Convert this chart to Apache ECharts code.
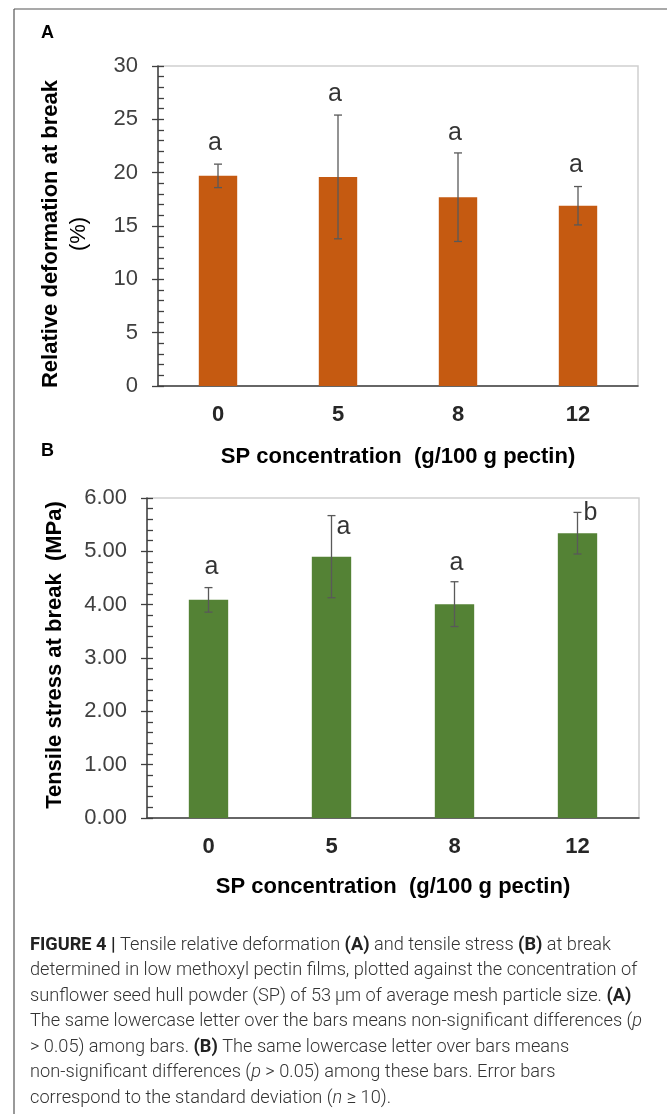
<!DOCTYPE html>
<html>
<head>
<meta charset="utf-8">
<script src="https://cdn.jsdelivr.net/npm/echarts@6/dist/echarts.min.js"></script>
<style>
html,body{margin:0;padding:0;background:#fff;}
#chart{width:667px;height:1114px;}
</style>
</head>
<body>
<div id="chart"></div>
<script>
// ---- data ----
const categories = ['0', '5', '8', '12'];
const deformation = [19.7, 19.6, 17.7, 16.9];        // Relative deformation at break (%)
const deformationSD = [1.1, 5.8, 4.15, 1.8];
const deformationLetters = ['a', 'a', 'a', 'a'];
const stress = [4.09, 4.90, 4.01, 5.34];            // Tensile stress at break (MPa)
const stressSD = [0.23, 0.77, 0.42, 0.39];
const stressLetters = ['a', 'a', 'a', 'b'];
const yTicksA = [0, 5, 10, 15, 20, 25, 30];
const yTicksB = [0, 1, 2, 3, 4, 5, 6];
const xTitle = 'SP concentration  (g/100 g pectin)';
const yTitleA = 'Relative deformation at break';
const yTitleAUnit = '(%)';
const yTitleB = 'Tensile stress at break  (MPa)';
const captionLines = [
  '{b|FIGURE 4 |} Tensile relative deformation {b|(A)} and tensile stress {b|(B)} at break',
  'determined in low methoxyl pectin films, plotted against the concentration of',
  'sunflower seed hull powder (SP) of 53\u2009\u03bcm of average mesh particle size. {b|(A)}',
  'The same lowercase letter over the bars means non-significant differences ({i|p}',
  '> 0.05) among bars. {b|(B)} The same lowercase letter over bars means',
  'non-significant differences ({i|p} > 0.05) among these bars. Error bars',
  'correspond to the standard deviation ({i|n} \u2265 10).'
];

// ---- styling / layout ----
const FONT = "'Liberation Sans', Arial, Helvetica, sans-serif";
const CAP_FONT = "Roboto, 'Liberation Sans', sans-serif";
const CAP_SIZE = 18.2;
const AXIS_COLOR = '#404040';
const ERR_COLOR = '#595959';

function errData(vals, sds) {
  return vals.map((v, i) => [i, v - sds[i], v + sds[i]]);
}
function errRender(params, api) {
  const x = api.value(0);
  const lo = api.coord([x, api.value(1)]);
  const hi = api.coord([x, api.value(2)]);
  const hw = 4;
  const style = { stroke: ERR_COLOR, lineWidth: 1.3 };
  return {
    type: 'group',
    children: [
      { type: 'line', shape: { x1: hi[0], y1: hi[1], x2: lo[0], y2: lo[1] }, style },
      { type: 'line', shape: { x1: hi[0] - hw, y1: hi[1], x2: hi[0] + hw, y2: hi[1] }, style },
      { type: 'line', shape: { x1: lo[0] - hw, y1: lo[1], x2: lo[0] + hw, y2: lo[1] }, style }
    ]
  };
}
function mainY(gridIndex, ticks, fmt, name, nameGap, namePad, rich) {
  return {
    type: 'value', gridIndex, position: 'left',
    min: ticks[0], max: ticks[ticks.length - 1], interval: ticks[1] - ticks[0],
    axisLine: { show: true, lineStyle: { color: AXIS_COLOR, width: 1.5 } },
    axisTick: { show: true, inside: false, length: 6, lineStyle: { color: AXIS_COLOR, width: 1.3 } },
    axisLabel: { show: true, margin: 20, fontFamily: FONT, fontSize: 22, color: AXIS_COLOR, formatter: fmt },
    splitLine: { show: false },
    name, nameLocation: 'middle', nameGap,
    nameTextStyle: Object.assign({ fontFamily: FONT, fontSize: 22, fontWeight: 'bold', color: '#000', padding: namePad }, rich ? { rich, lineHeight: 28 } : {})
  };
}
function innerY(gridIndex, ticks) {
  return {
    type: 'value', gridIndex, position: 'left',
    min: ticks[0], max: ticks[ticks.length - 1], interval: ticks[1] - ticks[0],
    axisLine: { show: false },
    axisTick: { show: true, inside: true, length: 6, lineStyle: { color: AXIS_COLOR, width: 1.3 } },
    minorTick: { show: true, splitNumber: 5, length: 6, lineStyle: { color: AXIS_COLOR, width: 1.3 } },
    axisLabel: { show: false },
    splitLine: { show: false }
  };
}
function xAx(gridIndex, nameGap) {
  return {
    type: 'category', gridIndex, data: categories,
    axisLine: { show: true, lineStyle: { color: AXIS_COLOR, width: 1.5 } },
    axisTick: { show: false },
    axisLabel: { margin: 18, fontFamily: FONT, fontSize: 22, fontWeight: 'bold', color: '#262626' },
    name: xTitle, nameLocation: 'middle', nameGap,
    nameTextStyle: { fontFamily: FONT, fontSize: 22, fontWeight: 'bold', color: '#000' }
  };
}
function letterSeries(xi, yi, vals, sds, letters, offsets) {
  return {
    type: 'scatter', xAxisIndex: xi, yAxisIndex: yi, symbolSize: 1, silent: true,
    itemStyle: { color: 'rgba(0,0,0,0)' }, z: 5,
    data: vals.map((v, i) => ({ value: [i, v + sds[i]], label: { offset: offsets[i] } })),
    label: {
      show: true, position: 'inside', fontFamily: FONT, fontSize: 25, color: '#000',
      formatter: p => letters[p.dataIndex]
    }
  };
}

const chart = echarts.init(document.getElementById('chart'), null, { renderer: 'canvas', width: 667, height: 1114 });

const captionGraphics = captionLines.map((t, i) => ({
  type: 'text', left: 30, top: 936 + i * 25.5,
  style: {
    text: t, fontFamily: CAP_FONT, fontWeight: 300, fontSize: CAP_SIZE, fill: '#333',
    rich: {
      b: { fontFamily: CAP_FONT, fontWeight: 'bold', fontSize: CAP_SIZE, fill: '#222' },
      i: { fontFamily: CAP_FONT, fontWeight: 300, fontStyle: 'italic', fontSize: CAP_SIZE, fill: '#333' }
    }
  }
}));

chart.setOption({
  animation: false,
  backgroundColor: '#fff',
  grid: [
    { left: 158, top: 66, width: 480, height: 320, show: true, borderColor: '#d0d0d0', borderWidth: 1.5, backgroundColor: 'transparent' },
    { left: 147, top: 498, width: 492, height: 320, show: true, borderColor: '#d0d0d0', borderWidth: 1.5, backgroundColor: 'transparent' }
  ],
  xAxis: [xAx(0, 60), xAx(1, 58)],
  yAxis: [
    mainY(0, yTicksA, v => String(v), yTitleA + '\n{u|' + yTitleAUnit + '}', 65, [0, 16, 0, 0], { u: { fontWeight: 'normal', fontSize: 22, fontFamily: FONT, color: '#000' } }),
    innerY(0, yTicksA),
    mainY(1, yTicksB, v => v.toFixed(2), yTitleB, 81, [0, 0, 0, 6], null),
    innerY(1, yTicksB)
  ],
  series: [
    { type: 'bar', xAxisIndex: 0, yAxisIndex: 0, data: deformation, barWidth: '32%', itemStyle: { color: '#C55A11' } },
    { type: 'custom', xAxisIndex: 0, yAxisIndex: 0, data: errData(deformation, deformationSD), renderItem: errRender, z: 4 },
    letterSeries(0, 0, deformation, deformationSD, deformationLetters, [[-3, -21], [-3, -21], [-3, -20], [-2, -21]]),
    { type: 'bar', xAxisIndex: 1, yAxisIndex: 2, data: stress, barWidth: '32%', itemStyle: { color: '#548235' } },
    { type: 'custom', xAxisIndex: 1, yAxisIndex: 2, data: errData(stress, stressSD), renderItem: errRender, z: 4 },
    letterSeries(1, 2, stress, stressSD, stressLetters, [[3, -20], [12, 12], [2, -19], [13, 1]])
  ],
  graphic: [
    { type: 'line', shape: { x1: 14, y1: 9, x2: 667, y2: 9 }, style: { stroke: '#555', lineWidth: 1.2 } },
    { type: 'line', shape: { x1: 14, y1: 9, x2: 14, y2: 1114 }, style: { stroke: '#555', lineWidth: 1.2 } },
    { type: 'text', left: 41, top: 24, style: { text: 'A', fontFamily: FONT, fontWeight: 'bold', fontSize: 18, fill: '#000' } },
    { type: 'text', left: 41, top: 442, style: { text: 'B', fontFamily: FONT, fontWeight: 'bold', fontSize: 18, fill: '#000' } }
  ].concat(captionGraphics)
});
</script>
</body>
</html>
